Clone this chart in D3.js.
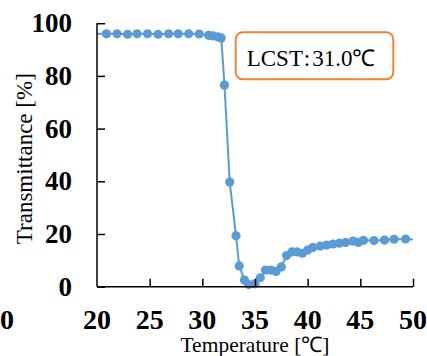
<!DOCTYPE html>
<html>
<head>
<meta charset="utf-8">
<script src="https://cdn.jsdelivr.net/npm/d3@7"></script>
<style>
  body { margin: 0; background: white; }
  svg { display: block; }
  text { font-family: "Liberation Serif", serif; }
</style>
</head>
<body>
<svg id="chart" width="427" height="356"></svg>
<script>
// temperature [C] and transmittance [%]
var temps = [18.9, 20.9, 21.9, 22.9, 23.8, 24.8, 25.8, 26.8, 27.7, 28.7, 29.7, 30.6, 31.0, 31.5, 31.8,
  32.1, 32.6, 33.2, 33.5, 34.0, 34.4, 35.0, 35.5, 36.0, 36.5, 37.0, 37.5, 38.0, 38.5, 39.0, 39.5,
  40.0, 40.5, 41.2, 41.8, 42.4, 43.0, 43.6, 44.3, 44.8, 45.3, 46.3, 47.3, 48.2, 49.3, 51.1];
var transmittance = [96.0, 96.0, 96.0, 95.8, 96.0, 96.0, 95.8, 96.0, 96.0, 96.0, 95.9, 95.4, 95.2, 94.8, 94.4,
  76.5, 39.7, 19.3, 7.9, 2.5, 0.8, 1.1, 3.4, 6.3, 6.3, 5.8, 7.5, 11.8, 13.2, 13.2, 12.7,
  13.9, 14.9, 15.4, 15.8, 16.2, 16.5, 16.8, 17.3, 16.8, 17.6, 17.5, 17.7, 18.0, 18.1, 17.6];
var x_ticks = [20, 25, 30, 35, 40, 45, 50];
var y_ticks = [0, 20, 40, 60, 80, 100];
var lcst_name = 'LCST';
var lcst_value = '31.0℃';

var svg = d3.select('#chart');
var blue = '#5B9BD5';

var x = d3.scaleLinear().domain([20, 50]).range([97, 413]);
var y = d3.scaleLinear().domain([0, 100]).range([286.7, 23.2]);

var data = temps.map(function(t, i){ return [t, transmittance[i]]; });

svg.append('defs')
  .append('clipPath')
  .attr('id', 'plot_clip')
  .append('rect')
  .attr('x', x(20))
  .attr('y', 0)
  .attr('width', x(50) - x(20))
  .attr('height', 356);

// series
var plot = svg.append('g').attr('clip-path', 'url(#plot_clip)');

plot.append('path')
  .datum(data)
  .attr('fill', 'none')
  .attr('stroke', blue)
  .attr('stroke-width', 2)
  .attr('d', d3.line()
    .x(function(d){ return x(d[0]); })
    .y(function(d){ return y(d[1]); }));

plot.selectAll('circle')
  .data(data)
  .enter()
  .append('circle')
  .attr('cx', function(d){ return x(d[0]); })
  .attr('cy', function(d){ return y(d[1]); })
  .attr('r', 4.6)
  .attr('fill', blue);

// y axis, ticks pointing inward
var y_axis = svg.append('g')
  .attr('transform', 'translate(' + x(20) + ',0)')
  .call(d3.axisRight(y).tickValues(y_ticks).tickSize(8).tickFormat(''));
y_axis.select('.domain').attr('d', 'M0,' + y(100) + 'V' + y(0)).attr('stroke-width', 1.5);
y_axis.selectAll('.tick line').attr('stroke-width', 1.5);

svg.selectAll('.y_label')
  .data(y_ticks)
  .enter()
  .append('text')
  .attr('x', 72)
  .attr('y', function(d){ return y(d); })
  .attr('dy', '0.34em')
  .style('text-anchor', 'end')
  .style('font-weight', 'bold')
  .style('font-size', '27px')
  .text(function(d){ return d; });

// x axis, ticks pointing up
var x_axis = svg.append('g')
  .attr('transform', 'translate(0,' + y(0) + ')')
  .call(d3.axisTop(x).tickValues(x_ticks.slice(1)).tickSize(8).tickFormat(''));
x_axis.select('.domain').attr('d', 'M' + x(20) + ',0H' + x(50)).attr('stroke-width', 1.5);
x_axis.selectAll('.tick line').attr('stroke-width', 1.5);

svg.selectAll('.x_label')
  .data(x_ticks)
  .enter()
  .append('text')
  .attr('x', function(d){ return x(d); })
  .attr('y', 329)
  .style('text-anchor', 'middle')
  .style('font-weight', 'bold')
  .style('font-size', '28px')
  .text(function(d){ return d; });

// stray label left over at the left edge
svg.append('text')
  .attr('x', 0)
  .attr('y', 329)
  .style('font-weight', 'bold')
  .style('font-size', '28px')
  .text('0');

// axis titles
svg.append('text')
  .attr('transform', 'translate(32,158.7) rotate(-90)')
  .style('text-anchor', 'middle')
  .style('font-size', '23px')
  .text('Transmittance [%]');

svg.append('text')
  .attr('x', 255)
  .attr('y', 352)
  .style('text-anchor', 'middle')
  .style('font-size', '21.5px')
  .text('Temperature [℃]');

// LCST call-out
var box = svg.append('g').attr('transform', 'translate(235.7,32.3)');
box.append('rect')
  .attr('width', 157.6)
  .attr('height', 47)
  .attr('rx', 7)
  .attr('ry', 7)
  .attr('fill', 'white')
  .attr('stroke', '#F28232')
  .attr('stroke-width', 2);
var lcst_text = box.append('text')
  .attr('x', 11)
  .attr('y', 34)
  .style('font-size', '23px');
lcst_text.append('tspan').text(lcst_name);
lcst_text.append('tspan').attr('dx', 2).text(':');
lcst_text.append('tspan').attr('dx', 2).text(lcst_value);
</script>
</body>
</html>
